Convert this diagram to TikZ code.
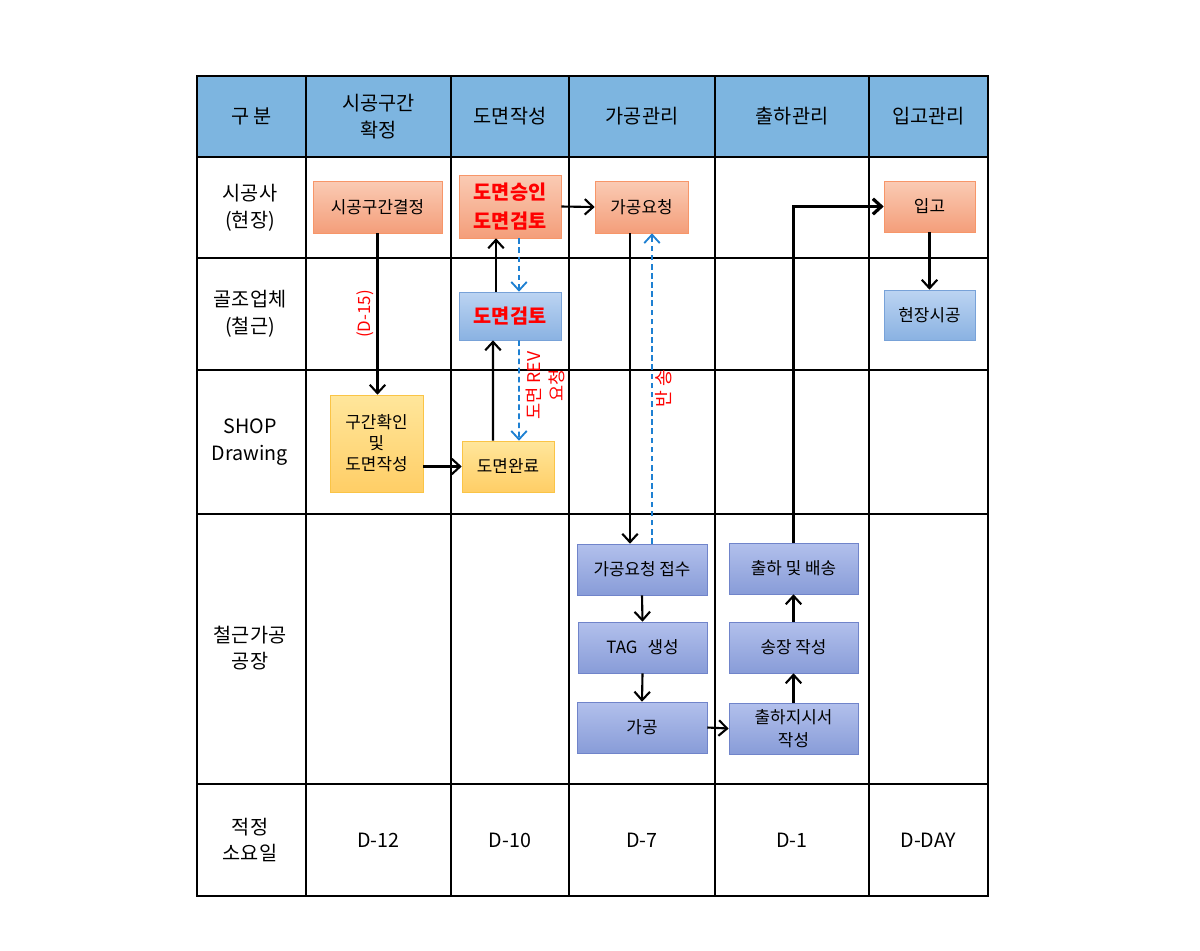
\documentclass[tikz,border=0pt]{standalone}
\usepackage{fontspec}
\setmainfont{Noto Sans CJK KR}
\usetikzlibrary{arrows.meta}
\definecolor{headblue}{RGB}{125,181,224}
\definecolor{orgtop}{RGB}{250,203,180}
\definecolor{orgbot}{RGB}{244,158,122}
\definecolor{orgline}{RGB}{247,150,105}
\definecolor{ltbtop}{RGB}{188,212,242}
\definecolor{ltbbot}{RGB}{138,178,226}
\definecolor{ltbline}{RGB}{120,162,216}
\definecolor{yeltop}{RGB}{255,230,155}
\definecolor{yelbot}{RGB}{255,206,102}
\definecolor{yelline}{RGB}{250,196,70}
\definecolor{pbltop}{RGB}{178,192,236}
\definecolor{pblbot}{RGB}{136,156,216}
\definecolor{pblline}{RGB}{112,132,202}
\definecolor{dashblue}{RGB}{30,128,210}
\tikzset{
  grid/.style={line width=1.3pt},
  cell/.style={align=center,font=\fontsize{14}{19}\selectfont},
  box/.style={draw,align=center,inner sep=0pt,font=\fontsize{12}{16}\selectfont},
  wh/.style 2 args={minimum width=#1*0.025cm,minimum height=#2*0.025cm},
  orgbox/.style={box,draw=orgline,top color=orgtop,bottom color=orgbot},
  ltbbox/.style={box,draw=ltbline,top color=ltbtop,bottom color=ltbbot},
  yelbox/.style={box,draw=yelline,top color=yeltop,bottom color=yelbot},
  pblbox/.style={box,draw=pblline,top color=pbltop,bottom color=pblbot},
  redtxt/.style={text=red,font=\fontsize{14}{20}\selectfont\bfseries},
  arr/.style={line width=1.5pt,-{Straight Barb[length=6pt,width=11pt]}},
  thickarr/.style={line width=2.3pt,-{Straight Barb[length=6pt,width=11pt]}},
  dasharr/.style={line width=1.3pt,dashblue,dash pattern=on 4pt off 2.5pt,-{Straight Barb[length=6pt,width=11pt]}},
  note/.style={text=red,inner sep=2pt,align=center,font=\fontsize{12}{14}\selectfont}
}
\begin{document}
\begin{tikzpicture}[x=0.025cm,y=-0.025cm]
\useasboundingbox (0,0) rectangle (1200,950);
\fill[headblue] (197,76) rectangle (988,157);
\draw[grid] (197,76) rectangle (988,896);
\draw[grid] (197,157) -- (988,157) (197,258) -- (988,258) (197,370) -- (988,370)
  (197,514) -- (988,514) (197,784) -- (988,784);
\draw[grid] (306,76) -- (306,896) (451,76) -- (451,896) (569,76) -- (569,896)
  (715,76) -- (715,896) (869,76) -- (869,896);

\node[cell] (gubun) at (251.5,116.5) {구 분};
\node[cell] (hdr1) at (378.5,116.5) {시공구간\\확정};
\node[cell] (hdr2) at (510,116.5) {도면작성};
\node[cell] (hdr3) at (642,116.5) {가공관리};
\node[cell] (hdr4) at (792,116.5) {출하관리};
\node[cell] (hdr5) at (928.5,116.5) {입고관리};
\node[cell] (row1) at (250,207.5) {시공사\\(현장)};
\node[cell] (row2) at (250,314) {골조업체\\(철근)};
\node[cell] (row3) at (250,442) {SHOP\\Drawing};
\node[cell] (row4) at (250,648) {철근가공\\공장};
\node[cell] (row5) at (250,840) {적정\\소요일};
\node[cell] (day1) at (378.5,840) {D-12};
\node[cell] (day2) at (510,840) {D-10};
\node[cell] (day3) at (642,840) {D-7};
\node[cell] (day4) at (792,840) {D-1};
\node[cell] (day5) at (928.5,840) {D-DAY};

\node[orgbox,wh={129}{52}] (gyeoljeong) at (377.5,207) {시공구간결정};
\node[orgbox,redtxt,wh={102}{63}] (seungin) at (510,206.5) {도면승인\\도면검토};
\node[orgbox,wh={93}{52}] (yocheong) at (641.5,207) {가공요청};
\node[orgbox,wh={91}{51}] (ipgo) at (929.5,206.5) {입고};
\node[ltbbox,redtxt,wh={102}{48}] (geomto) at (510,316) {도면검토};
\node[ltbbox,wh={91}{50}] (sigong) at (929.5,315) {현장시공};
\node[yelbox,wh={93}{97},font=\fontsize{12}{15}\selectfont] (hwagin) at (376.5,443.5) {구간확인\\및\\도면작성};
\node[yelbox,wh={92}{51}] (wanryo) at (508,466.5) {도면완료};
\node[pblbox,wh={130}{51}] (jeopsu) at (642,569.5) {가공요청 접수};
\node[pblbox,wh={129}{51}] (tag) at (642.5,647.5) {TAG\hspace{0.6em}생성};
\node[pblbox,wh={130}{51}] (gagong) at (642,727.5) {가공};
\node[pblbox,wh={129}{51}] (baesong) at (793.5,568.5) {출하 및 배송};
\node[pblbox,wh={129}{51}] (songjang) at (793.5,647.5) {송장 작성};
\node[pblbox,wh={129}{51}] (jisiseo) at (793.5,728.5) {출하지시서\\작성};

\draw[arr] (gyeoljeong.south) -- (gyeoljeong.south |- hwagin.north)
  node[note,pos=0.5,rotate=90,above] {(D-15)};
\draw[arr] (hwagin.east |- wanryo.west) -- (wanryo.west);
\draw[arr] ([xshift=-0.375cm]wanryo.north) -- ([xshift=-0.425cm]geomto.south);
\draw[arr] ([xshift=-0.35cm]geomto.north) -- ([xshift=-0.35cm]seungin.south);
\draw[dasharr] ([xshift=0.225cm]seungin.south) -- ([xshift=0.225cm]geomto.north);
\draw[dasharr] ([xshift=0.225cm]geomto.south) -- ([xshift=0.275cm]wanryo.north)
  node[note,pos=0.45,rotate=90,below,inner sep=4pt,font=\fontsize{12.5}{17}\selectfont] {도면 REV\\요청};
\draw[arr] (seungin.east) -- (yocheong.west);
\draw[arr] ([xshift=-0.2875cm]yocheong.south) -- ([xshift=-0.3cm]jeopsu.north);
\draw[dasharr] ([xshift=0.25cm]jeopsu.north) -- ([xshift=0.2625cm]yocheong.south)
  node[note,pos=0.5,rotate=90,below,font=\fontsize{13}{14}\selectfont] {반 송};
\draw[arr] (jeopsu.south) -- (tag.north);
\draw[arr] (tag.south) -- (gagong.north);
\draw[arr] (gagong.east) -- (jisiseo.west);
\draw[arr] (jisiseo.north) -- (songjang.south);
\draw[arr] (songjang.north) -- (baesong.south);
\draw[thickarr] (baesong.north) |- (ipgo.west);
\draw[arr] (ipgo.south) -- (sigong.north);
\end{tikzpicture}
\end{document}
